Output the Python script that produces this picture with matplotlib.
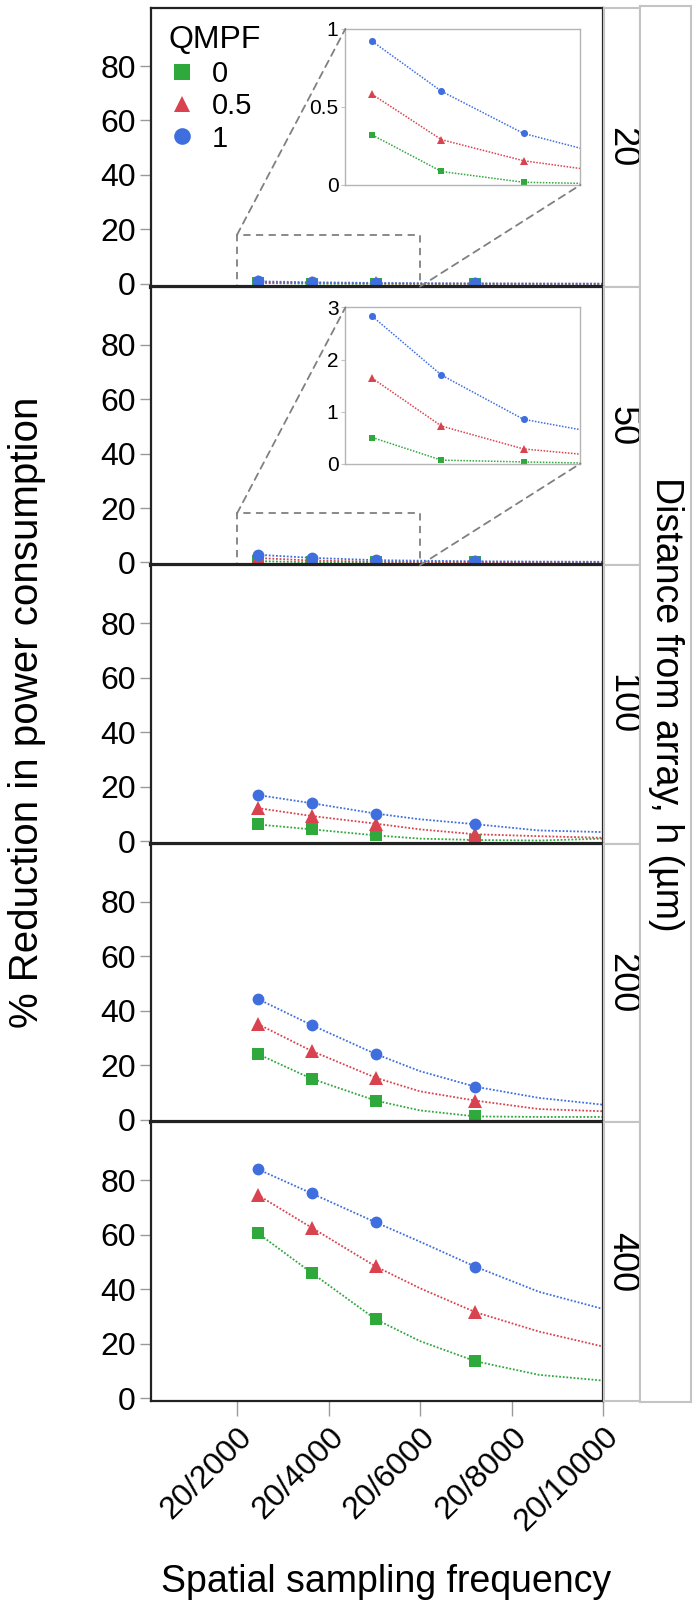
import matplotlib
matplotlib.use("Agg")
import matplotlib.pyplot as plt
from matplotlib.lines import Line2D
from matplotlib.patches import Rectangle, ConnectionPatch

plt.rcParams["font.family"] = ["Liberation Sans", "DejaVu Sans"]

# ---- data -------------------------------------------------------------
DISTANCES = ["20", "50", "100", "200", "400"]
QMPF = ["0", "0.5", "1"]
COLORS = {"0": "#2fa83c", "0.5": "#d9434f", "1": "#3f6fdf"}
MARKERS = {"0": "s", "0.5": "^", "1": "o"}
MSIZE = {"0": 8, "0.5": 10, "1": 8.5}

X_TICKS = [2000, 4000, 6000, 8000, 10000]
X_TICK_LABELS = ["20/2000", "20/4000", "20/6000", "20/8000", "20/10000"]
Y_TICKS = [0, 20, 40, 60, 80]

# curve samples; markers only on the measured ones
X_CURVE = [2458, 3636, 5032, 6000, 7213, 8600, 10000]
MARKED = [0, 1, 2, 4]

H20_Q0 = [0.32, 0.086, 0.017, 0.01, 0.005, 0.0, 0.0]
H20_Q05 = [0.58, 0.29, 0.155, 0.105, 0.07, 0.04, 0.03]
H20_Q1 = [0.92, 0.60, 0.33, 0.235, 0.15, 0.10, 0.07]

H50_Q0 = [0.50, 0.065, 0.03, 0.01, 0.01, 0.0, 0.0]
H50_Q05 = [1.64, 0.72, 0.28, 0.18, 0.12, 0.08, 0.06]
H50_Q1 = [2.83, 1.70, 0.85, 0.65, 0.45, 0.32, 0.25]

H100_Q0 = [6.1, 4.3, 2.1, 0.9, 0.4, 0.2, 0.9]
H100_Q05 = [12.1, 9.2, 6.4, 4.3, 2.5, 1.8, 1.2]
H100_Q1 = [16.9, 13.9, 10.1, 8.0, 6.2, 3.9, 3.3]

H200_Q0 = [24.1, 15.0, 7.0, 3.4, 1.2, 1.0, 1.0]
H200_Q05 = [35.1, 25.2, 15.4, 10.4, 7.0, 3.9, 3.1]
H200_Q1 = [44.3, 34.7, 24.1, 17.8, 12.1, 8.0, 5.5]

H400_Q0 = [60.6, 46.0, 29.0, 21.0, 13.6, 8.6, 6.5]
H400_Q05 = [74.6, 62.6, 48.4, 40.4, 31.6, 24.5, 19.0]
H400_Q1 = [84.1, 75.2, 64.6, 57.5, 48.3, 39.1, 32.8]

SERIES = {
    "20": {"0": H20_Q0, "0.5": H20_Q05, "1": H20_Q1},
    "50": {"0": H50_Q0, "0.5": H50_Q05, "1": H50_Q1},
    "100": {"0": H100_Q0, "0.5": H100_Q05, "1": H100_Q1},
    "200": {"0": H200_Q0, "0.5": H200_Q05, "1": H200_Q1},
    "400": {"0": H400_Q0, "0.5": H400_Q05, "1": H400_Q1},
}

# zoomed insets for the two smallest distances
INSETS = {
    "20": {"ylim": (0, 1), "ticks": [0, 0.5, 1], "labels": ["0", "0.5", "1"]},
    "50": {"ylim": (0, 3), "ticks": [0, 1, 2, 3], "labels": ["0", "1", "2", "3"]},
}
ZOOM_X = (2000, 6000)
ZOOM_Y = (-1, 18)

# ---- layout -----------------------------------------------------------
W, H = 700, 1621
fig = plt.figure(figsize=(W / 100, H / 100), dpi=100)

x0, x1 = 151, 603
y_top, y_bot = 8, 1401
ph = (y_bot - y_top) / len(DISTANCES)

TICK_FS = 23
dark = "#222222"
tick_gray = "#9a9a9a"
frame_gray = "#c4c4c4"

axes = []
for i, dist in enumerate(DISTANCES):
    top = y_top + i * ph
    ax = fig.add_axes([x0 / W, 1 - (top + ph) / H, (x1 - x0) / W, ph / H])
    axes.append(ax)
    ax.set_xlim(120, 10000)
    ax.set_ylim(-1, 101.3)
    for q in QMPF:
        ax.plot(X_CURVE, SERIES[dist][q], color=COLORS[q], ls=(0, (1, 1)), lw=1.3,
                marker=MARKERS[q], markevery=MARKED, ms=MSIZE[q], mew=0)
    ax.set_yticks(Y_TICKS)
    ax.set_yticklabels([str(v) for v in Y_TICKS])
    ax.tick_params(axis="y", length=8, width=1, color=tick_gray, pad=3, labelsize=TICK_FS)
    ax.set_xticks(X_TICKS)
    if i == len(DISTANCES) - 1:
        ax.set_xticklabels(X_TICK_LABELS, rotation=45, ha="right", va="top",
                           rotation_mode="anchor")
        ax.tick_params(axis="x", length=11, width=1, color=tick_gray, pad=4,
                       labelsize=TICK_FS)
    else:
        ax.tick_params(axis="x", length=0, labelbottom=False)
    for sp in ax.spines.values():
        sp.set_color(dark)
        sp.set_linewidth(1.6)
    if i < len(DISTANCES) - 1:
        ax.spines["bottom"].set_linewidth(3)

    # facet strip
    sax = fig.add_axes([604 / W, 1 - (top + ph) / H, 36 / W, ph / H])
    sax.set_xticks([])
    sax.set_yticks([])
    for sp in sax.spines.values():
        sp.set_color(frame_gray)
        sp.set_linewidth(1.5)
    sax.text(0.5, 0.5, dist, rotation=-90, ha="center", va="center",
             fontsize=26, transform=sax.transAxes)

    if dist in INSETS:
        cfg = INSETS[dist]
        iax = ax.inset_axes([0.43, 0.365, 0.52, 0.56])
        for q in QMPF:
            iax.plot(X_CURVE, SERIES[dist][q], color=COLORS[q], ls=(0, (1, 1)), lw=1.1,
                     marker=MARKERS[q], markevery=MARKED, ms=MSIZE[q] * 0.6, mew=0)
        iax.set_xlim(*ZOOM_X)
        iax.set_ylim(*cfg["ylim"])
        iax.set_xticks([])
        iax.set_yticks(cfg["ticks"])
        iax.set_yticklabels(cfg["labels"])
        iax.tick_params(axis="y", length=3, color=frame_gray, pad=2, labelsize=15)
        for sp in iax.spines.values():
            sp.set_color("#b5b5b5")
            sp.set_linewidth(1.0)
        ax.add_patch(Rectangle((ZOOM_X[0], ZOOM_Y[0]), ZOOM_X[1] - ZOOM_X[0],
                               ZOOM_Y[1] - ZOOM_Y[0], fill=False, ec="#808080",
                               lw=1.3, ls=(0, (4, 3)), clip_on=False))
        for xy_data, xy_ax in [((ZOOM_X[0], ZOOM_Y[1]), (0, 1)),
                               ((ZOOM_X[1], ZOOM_Y[0]), (1, 0))]:
            con = ConnectionPatch(xyA=xy_data, coordsA=ax.transData,
                                  xyB=xy_ax, coordsB=iax.transAxes,
                                  color="#808080", lw=1.3, ls=(0, (4, 3)))
            fig.add_artist(con)

# outer strip
oax = fig.add_axes([640 / W, 1 - 1402 / H, 51 / W, (1402 - 6) / H])
oax.set_xticks([])
oax.set_yticks([])
for sp in oax.spines.values():
    sp.set_color(frame_gray)
    sp.set_linewidth(1.5)
oax.text(0.5, 0.5, "Distance from array, h (µm)", rotation=-90, ha="center",
         va="center", fontsize=27, transform=oax.transAxes)

# legend
handles = [Line2D([], [], ls="none", marker=MARKERS[q], color=COLORS[q], ms=12, mew=0)
           for q in QMPF]
leg = axes[0].legend(handles, QMPF, title="QMPF", loc="upper left", frameon=False,
                     fontsize=21, title_fontsize=23, handlelength=0.9,
                     handletextpad=0.6, labelspacing=0.15, borderaxespad=0.2,
                     alignment="left")

fig.text(27 / W, 1 - 712 / H, "% Reduction in power consumption",
         rotation=90, ha="center", va="center", fontsize=29)
fig.text(386 / W, 1 - 1582 / H, "Spatial sampling frequency",
         ha="center", va="center", fontsize=27)

fig.savefig("out.png", dpi=100)
